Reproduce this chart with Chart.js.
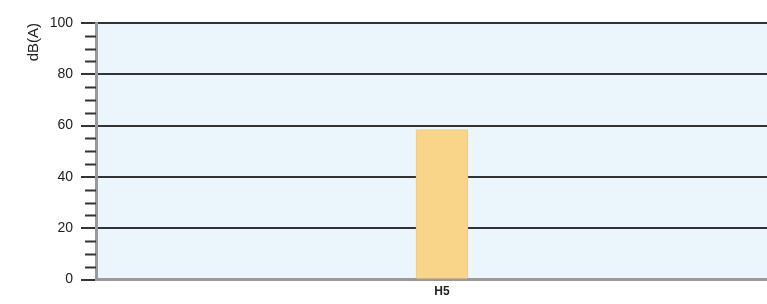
<!DOCTYPE html>
<html>
<head>
<meta charset="utf-8">
<script src="https://cdn.jsdelivr.net/npm/chart.js@4"></script>
<style>
  html, body { margin: 0; padding: 0; background: #fff; overflow: hidden; }
  #wrap { width: 790px; height: 304px; }
</style>
</head>
<body>
<div id="wrap"><canvas id="chart"></canvas></div>
<script>
// data
const categories = ['H5'];
const levels = [58.5];
const yTicks = [0, 20, 40, 60, 80, 100];
const minorStep = 5;

// light blue plot background + short minor ticks on the left axis
const plotDecor = {
    id: 'plotDecor',
    beforeDraw(chart) {
        const { ctx, chartArea: a } = chart;
        ctx.save();
        ctx.fillStyle = '#ebf5fc';
        ctx.fillRect(a.left, a.top, a.right - a.left, a.bottom - a.top);
        ctx.restore();
    },
    afterDraw(chart) {
        const { ctx, chartArea: a } = chart;
        const y = chart.scales.y;
        ctx.save();
        ctx.strokeStyle = '#333';
        ctx.lineWidth = 2;
        for (let v = y.min; v <= y.max; v += minorStep) {
            if (v % 20 === 0) continue;
            const py = Math.round(y.getPixelForValue(v)) + 0.5;
            ctx.beginPath();
            ctx.moveTo(a.left - 11, py);
            ctx.lineTo(a.left, py);
            ctx.stroke();
        }
        ctx.restore();
    }
};

new Chart(document.getElementById('chart'), {
    type: 'bar',
    data: {
        labels: categories,
        datasets: [{
            label: 'dB(A)',
            data: levels,
            backgroundColor: '#f9d58a',
            borderColor: '#efc97e',
            borderWidth: 1,
            barThickness: 52
        }]
    },
    options: {
        responsive: true,
        maintainAspectRatio: false,
        animation: false,
        layout: { padding: { top: 23, right: 2, left: 0, bottom: 0 } },
        plugins: { legend: { display: false }, tooltip: { enabled: false } },
        scales: {
            x: {
                grid: { display: false, drawTicks: false },
                border: { color: '#999', width: 3 },
                ticks: {
                    color: '#222',
                    padding: 5,
                    font: { family: 'Liberation Sans, Arial', size: 12, weight: 'bold' }
                }
            },
            y: {
                min: 0,
                max: 100,
                afterFit(scale) { scale.width = 96; },
                afterBuildTicks(scale) { scale.ticks = yTicks.map(v => ({ value: v })); },
                grid: { color: '#333', lineWidth: 2, tickLength: 15, tickColor: '#333' },
                border: { color: '#999', width: 3 },
                ticks: {
                    color: '#222',
                    padding: 8,
                    font: { family: 'Liberation Sans, Arial', size: 14 }
                },
                title: {
                    display: true,
                    text: 'dB(A)',
                    align: 'end',
                    color: '#222',
                    padding: { top: 25, bottom: 0 },
                    font: { family: 'Liberation Sans, Arial', size: 15 }
                }
            }
        }
    },
    plugins: [plotDecor]
});
</script>
</body>
</html>
